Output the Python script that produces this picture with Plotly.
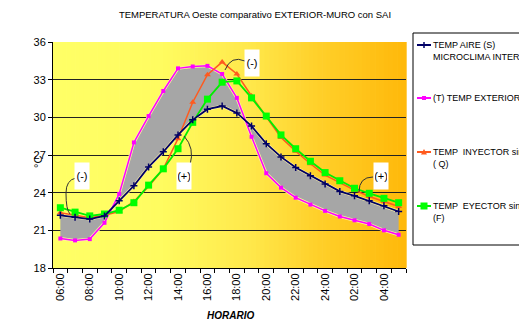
import plotly.graph_objects as go

hours = ["06:00", "07:00", "08:00", "09:00", "10:00", "11:00", "12:00", "13:00",
         "14:00", "15:00", "16:00", "17:00", "18:00", "19:00", "20:00", "21:00",
         "22:00", "23:00", "24:00", "01:00", "02:00", "03:00", "04:00", "05:00"]
tick_labels = [h if i % 2 == 0 else "" for i, h in enumerate(hours)]

aire_S = [22.2, 22.05, 21.9, 22.15, 23.35, 24.55, 26.05, 27.25, 28.6, 29.8, 30.65, 30.9,
          30.35, 29.3, 27.9, 26.85, 26.0, 25.35, 24.7, 24.1, 23.75, 23.35, 22.95, 22.5]
exterior_T = [20.35, 20.2, 20.3, 21.6, 23.9, 28.0, 30.1, 32.1, 33.9, 34.05, 34.1, 33.45,
              31.55, 28.45, 25.55, 24.4, 23.6, 23.05, 22.55, 22.1, 21.8, 21.5, 21.0, 20.65]
inyector_Q = [22.4, 22.2, 22.0, 22.2, 22.5, 23.3, 24.5, 25.9, 28.3, 31.2, 33.4, 34.4,
              33.45, 31.7, 30.0, 28.4, 27.3, 26.3, 25.4, 24.8, 24.2, 23.7, 23.3, 22.9]
eyector_F = [22.8, 22.45, 22.15, 22.3, 22.6, 23.2, 24.6, 25.9, 27.5, 29.6, 31.45, 32.8,
             32.9, 31.55, 30.1, 28.6, 27.5, 26.5, 25.6, 24.95, 24.35, 23.95, 23.55, 23.2]

series_names = ["TEMP AIRE (S)<br>MICROCLIMA INTERIOR", "(T) TEMP EXTERIOR",
                "TEMP  INYECTOR sin SAI<br>( Q)", "TEMP  EYECTOR sin SAI<br>(F)"]
series_colors = ["#000066", "#FF00FF", "#FF5A1E", "#00EE00"]

FONT = "Liberation Sans Narrow, Arial Narrow, Liberation Sans, Arial, sans-serif"
OFF = 8                      # page body margin
W, H = 527 - OFF, 323 - OFF
L0, R0, T0, B0 = 53, 406, 42, 268   # plot box in screen pixels

def px(X):
    return (X - L0) / (R0 - L0)

def py(Y):
    return (B0 - Y) / (B0 - T0)

fig = go.Figure()

# grey band between exterior and interior air
fig.add_trace(go.Scatter(x=hours, y=aire_S, mode="lines", showlegend=False, hoverinfo="skip",
                         line=dict(color="#FFF2A0", width=3)))
fig.add_trace(go.Scatter(x=hours, y=exterior_T, mode="lines", showlegend=False, hoverinfo="skip",
                         fill="tonexty", fillcolor="#A6A6A6",
                         line=dict(color="#FFF2A0", width=3)))

fig.add_trace(go.Scatter(x=hours, y=exterior_T, mode="lines+markers", name=series_names[1],
                         line=dict(color=series_colors[1], width=1.5),
                         marker=dict(symbol="square", size=4, color=series_colors[1])))
fig.add_trace(go.Scatter(x=hours, y=inyector_Q, mode="lines+markers", name=series_names[2],
                         line=dict(color=series_colors[2], width=1.5),
                         marker=dict(symbol="triangle-up", size=6, color=series_colors[2])))
fig.add_trace(go.Scatter(x=hours, y=eyector_F, mode="lines+markers", name=series_names[3],
                         line=dict(color=series_colors[3], width=1.8),
                         marker=dict(symbol="square", size=7, color="#00FF00")))
fig.add_trace(go.Scatter(x=hours, y=aire_S, mode="lines+markers", name=series_names[0],
                         line=dict(color=series_colors[0], width=1.8),
                         marker=dict(symbol="cross-thin", size=5, color=series_colors[0],
                                     line=dict(color=series_colors[0], width=1.5))))

# gradient background
stops = [(0.0, (255, 255, 102)), (0.3, (255, 252, 96)), (0.55, (255, 233, 76)),
         (0.75, (255, 208, 42)), (1.0, (255, 184, 10))]

def grad(f):
    for (a, ca), (b, cb) in zip(stops[:-1], stops[1:]):
        if a <= f <= b:
            t = (f - a) / (b - a)
            return tuple(round(ca[k] + (cb[k] - ca[k]) * t) for k in range(3))
    return stops[-1][1]

shapes = []
N = 80
for i in range(N):
    c = grad((i + 0.5) / N)
    shapes.append(dict(type="rect", xref="x domain", yref="y domain",
                       x0=i / N, x1=(i + 1) / N + 0.002, y0=0, y1=1, layer="below",
                       line=dict(width=0), fillcolor="rgb(%d,%d,%d)" % c))

# callout leader lines (pixel -> paper)
def qpath(p0, c, p1, extra=None):
    s = "M %f,%f Q %f,%f %f,%f" % (px(p0[0]), py(p0[1]), px(c[0]), py(c[1]), px(p1[0]), py(p1[1]))
    if extra:
        for (cc, pp) in extra:
            s += " Q %f,%f %f,%f" % (px(cc[0]), py(cc[1]), px(pp[0]), py(pp[1]))
    return s

callouts = [
    qpath((76, 178), (66, 180), (66, 193), [((66, 210), (70, 214))]),
    qpath((190, 165), (195, 148), (184, 136)),
    qpath((245, 61), (231, 55), (225, 70)),
    qpath((373, 177), (359, 177), (359, 192)),
]
for p in callouts:
    shapes.append(dict(type="path", xref="paper", yref="paper", path=p,
                       line=dict(color="#333333", width=1), layer="above"))

annotations = []
for (cx, cy, t) in [(81.5, 176, "(-)"), (183.5, 176, "(+)"), (251.5, 63, "(-)"), (380.5, 176, "(+)")]:
    annotations.append(dict(x=px(cx), y=py(cy), xref="paper", yref="paper", text=t, showarrow=False,
                            bgcolor="white", width=12, height=24, font=dict(family=FONT, size=11, color="black"),
                            xanchor="center", yanchor="middle"))
annotations.append(dict(x=px(38), y=py(162), xref="paper", yref="paper", text="°C", showarrow=False,
                        textangle=-90, font=dict(family=FONT, size=11, color="black"),
                        xanchor="center", yanchor="middle"))
annotations.append(dict(x=px(230), y=py(315), xref="paper", yref="paper", text="<b><i>HORARIO</i></b>",
                        showarrow=False, font=dict(family=FONT, size=10, color="black"),
                        xanchor="center", yanchor="middle"))

# hand-drawn legend box (right side clipped like the original)
shapes.append(dict(type="rect", xref="paper", yref="paper", x0=px(413), x1=px(560),
                   y0=py(245), y1=py(33), line=dict(color="black", width=1), fillcolor="white"))
legend_rows = [45, 98, 152, 206]
for k, yy in enumerate(legend_rows):
    col = series_colors[k]
    shapes.append(dict(type="line", xref="paper", yref="paper", x0=px(417), x1=px(431),
                       y0=py(yy), y1=py(yy), line=dict(color=col, width=2)))
    cx = 424
    if k == 0:
        p = "M %f,%f L %f,%f M %f,%f L %f,%f" % (px(cx - 3), py(yy), px(cx + 3), py(yy),
                                                 px(cx), py(yy - 3), px(cx), py(yy + 3))
        shapes.append(dict(type="path", xref="paper", yref="paper", path=p,
                           line=dict(color=col, width=1.5)))
    elif k == 1:
        shapes.append(dict(type="rect", xref="paper", yref="paper", x0=px(cx - 2), x1=px(cx + 2),
                           y0=py(yy + 2), y1=py(yy - 2), line=dict(width=0), fillcolor=col))
    elif k == 2:
        p = "M %f,%f L %f,%f L %f,%f Z" % (px(cx - 3), py(yy + 2.5), px(cx + 3), py(yy + 2.5),
                                           px(cx), py(yy - 3))
        shapes.append(dict(type="path", xref="paper", yref="paper", path=p,
                           line=dict(width=0), fillcolor=col))
    else:
        shapes.append(dict(type="rect", xref="paper", yref="paper", x0=px(cx - 3.5), x1=px(cx + 3.5),
                           y0=py(yy + 3.5), y1=py(yy - 3.5), line=dict(width=0), fillcolor="#00FF00"))
    annotations.append(dict(x=px(431), y=py(yy - 7), xref="paper", yref="paper", text=series_names[k],
                            showarrow=False, align="left", xanchor="left", yanchor="top",
                            font=dict(family=FONT, size=9, color="black")))

fig.update_layout(
    width=W, height=H,
    margin=dict(l=L0 - OFF, r=W - (R0 - OFF), t=T0 - OFF, b=H - (B0 - OFF), pad=0, autoexpand=False),
    paper_bgcolor="white", plot_bgcolor="rgba(0,0,0,0)",
    font=dict(family=FONT, size=10, color="black"),
    title=dict(text="TEMPERATURA Oeste comparativo EXTERIOR-MURO con SAI", x=(255 - OFF) / W,
               xref="container", xanchor="center", y=1 - (15 - OFF) / H, yanchor="middle",
               font=dict(family=FONT, size=9.5, color="black")),
    shapes=shapes, annotations=annotations,
    showlegend=False,
)
fig.update_xaxes(type="category", categoryorder="array", categoryarray=hours,
                 tickvals=hours, ticktext=tick_labels, tickangle=-90, tickson="boundaries",
                 ticks="outside", ticklen=4, tickcolor="black", showline=True, linecolor="black",
                 linewidth=1, showgrid=False, tickfont=dict(family=FONT, size=11, color="black"),
                 range=[-0.5, 23.5])
fig.update_yaxes(range=[18, 36], dtick=3, tick0=18, showgrid=True, gridcolor="#222222", gridwidth=1,
                 showline=True, linecolor="black", linewidth=1, ticks="outside", ticklen=4,
                 tickcolor="black", zeroline=False, tickfont=dict(family=FONT, size=11, color="black"))

fig.write_html("out.html")
